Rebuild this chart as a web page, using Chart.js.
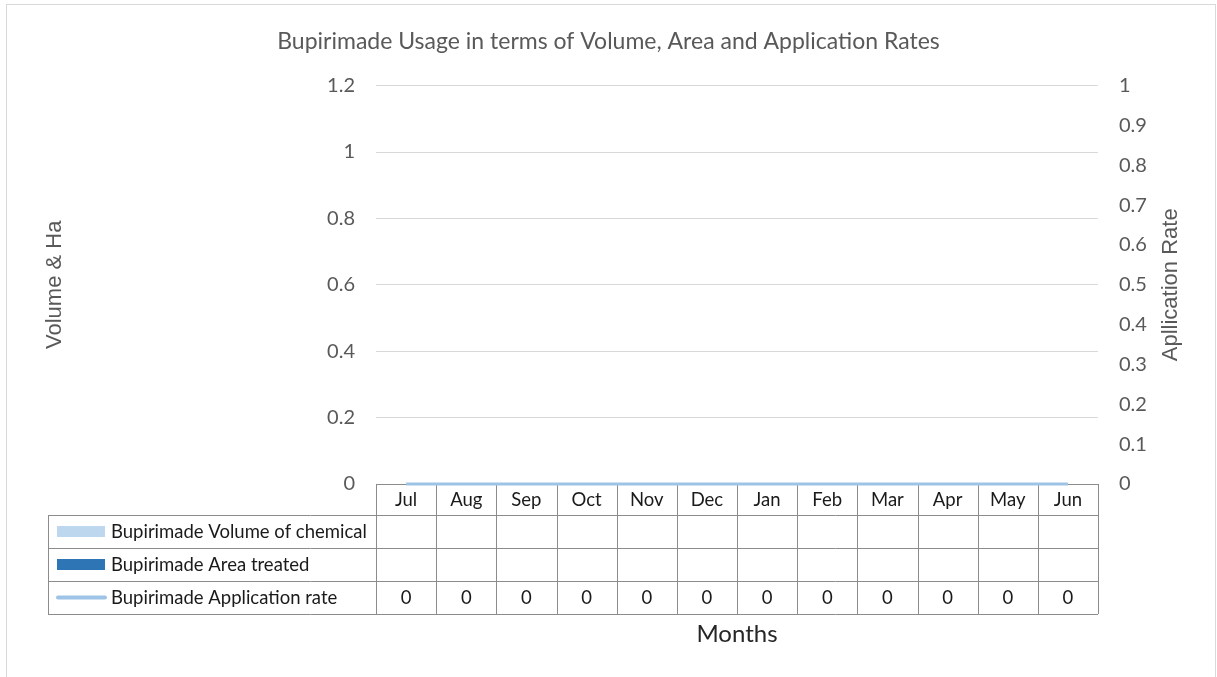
<!DOCTYPE html>
<html>
<head>
<meta charset="utf-8">
<script src="https://cdn.jsdelivr.net/npm/chart.js@4"></script>
<style>
html, body { margin: 0; padding: 0; background: #fff; }
</style>
</head>
<body>
<canvas id="chartCanvas" width="1217" height="677"></canvas>
<script>
var months = ["Jul", "Aug", "Sep", "Oct", "Nov", "Dec", "Jan", "Feb", "Mar", "Apr", "May", "Jun"];
var volumeOfChemical = [null, null, null, null, null, null, null, null, null, null, null, null];
var areaTreated = [null, null, null, null, null, null, null, null, null, null, null, null];
var applicationRate = [0, 0, 0, 0, 0, 0, 0, 0, 0, 0, 0, 0];

var FONT = "Lato, 'Open Sans', sans-serif";
var AXIS_FONT = "'Liberation Sans', Arial, sans-serif";
var TEXT = "#595959";

// data table under the plot, one column per category of the x scale
var tablePlugin = {
    id: "dataTable",
    beforeDraw: function(chart) {
        var ctx = chart.ctx;
        ctx.save();
        ctx.strokeStyle = "#d9d9d9";
        ctx.lineWidth = 1;
        ctx.strokeRect(6.5, 4.5, 1209, 720);
        ctx.restore();
    },
    beforeDatasetsDraw: function(chart) {
        var ctx = chart.ctx;
        var area = chart.chartArea;
        var xs = chart.scales.x;
        var colW = (area.right - area.left) / months.length;
        var rows = [area.bottom, area.bottom + 31, area.bottom + 64, area.bottom + 97, area.bottom + 130];
        var legendLeft = 48;
        var sets = chart.data.datasets;

        ctx.save();
        ctx.strokeStyle = "#8c8c8c";
        ctx.lineWidth = 1;
        ctx.beginPath();
        ctx.moveTo(area.left, Math.round(rows[0]) + 0.5);
        ctx.lineTo(area.right, Math.round(rows[0]) + 0.5);
        for (var r = 1; r < rows.length; r++) {
            ctx.moveTo(legendLeft, Math.round(rows[r]) + 0.5);
            ctx.lineTo(area.right, Math.round(rows[r]) + 0.5);
        }
        for (var i = 0; i <= months.length; i++) {
            var x = Math.round(xs.getPixelForValue(0) - colW / 2 + i * colW) + 0.5;
            ctx.moveTo(x, rows[0]);
            ctx.lineTo(x, rows[4]);
        }
        ctx.moveTo(legendLeft + 0.5, rows[1]);
        ctx.lineTo(legendLeft + 0.5, rows[4]);
        ctx.stroke();

        ctx.fillStyle = "#1a1a1a";
        ctx.font = "18.5px " + FONT;
        ctx.textAlign = "center";
        ctx.textBaseline = "middle";
        var rowData = [volumeOfChemical, areaTreated, applicationRate];
        for (var j = 0; j < months.length; j++) {
            var cx = xs.getPixelForValue(j);
            ctx.fillText(months[j], cx, (rows[0] + rows[1]) / 2 + 1);
            for (var k = 0; k < rowData.length; k++) {
                if (rowData[k][j] !== null) {
                    ctx.fillText(String(rowData[k][j]), cx, (rows[k + 1] + rows[k + 2]) / 2 + 1);
                }
            }
        }

        // legend keys
        for (var s = 0; s < 3; s++) {
            var midY = (rows[s + 1] + rows[s + 2]) / 2;
            var ds = sets[s];
            if (ds.type === "line") {
                ctx.strokeStyle = ds.borderColor;
                ctx.lineWidth = 4;
                ctx.lineCap = "round";
                ctx.beginPath();
                ctx.moveTo(58, midY);
                ctx.lineTo(105, midY);
                ctx.stroke();
            } else {
                ctx.fillStyle = ds.backgroundColor;
                ctx.fillRect(57, midY - 5.5, 48, 11);
            }
            ctx.fillStyle = "#1a1a1a";
            ctx.textAlign = "left";
            ctx.fillText(ds.label, 111, midY + 1);
        }
        ctx.restore();
    },
    afterDraw: function(chart) {
        var ctx = chart.ctx;
        var area = chart.chartArea;
        ctx.save();
        ctx.translate(1171, (area.top + area.bottom) / 2);
        ctx.rotate(-Math.PI / 2);
        ctx.fillStyle = TEXT;
        ctx.font = "22px " + AXIS_FONT;
        ctx.textAlign = "center";
        ctx.textBaseline = "middle";
        ctx.fillText("Apllication Rate", 0, 0);
        ctx.restore();
    }
};

var ctx = document.getElementById("chartCanvas");
var chart = new Chart(ctx, {
    data: {
        labels: months,
        datasets: [{
            type: "bar",
            label: "Bupirimade Volume of chemical",
            data: volumeOfChemical,
            backgroundColor: "#bdd7ee",
            yAxisID: "y",
            order: 2
        }, {
            type: "bar",
            label: "Bupirimade Area treated",
            data: areaTreated,
            backgroundColor: "#2e75b6",
            yAxisID: "y",
            order: 2
        }, {
            type: "line",
            label: "Bupirimade Application rate",
            data: applicationRate,
            borderColor: "#9dc3e6",
            backgroundColor: "#9dc3e6",
            borderWidth: 3,
            pointRadius: 0,
            tension: 0,
            clip: false,
            yAxisID: "y1",
            order: 1
        }]
    },
    options: {
        responsive: false,
        animation: false,
        layout: { padding: 0 },
        plugins: {
            legend: { display: false },
            tooltip: { enabled: false },
            title: {
                display: true,
                text: "Bupirimade Usage in terms of Volume, Area and Application Rates",
                color: TEXT,
                font: { family: FONT, size: 23, weight: "normal" },
                padding: { top: 28, bottom: 30 }
            }
        },
        scales: {
            x: {
                offset: true,
                grid: { display: false },
                border: { display: false },
                ticks: { display: false },
                title: {
                    display: true,
                    text: "Months",
                    color: "#262626",
                    font: { family: FONT, size: 24 },
                    padding: { top: 0, bottom: 28 }
                },
                afterFit: function(scale) { scale.height = 193; }
            },
            y: {
                position: "left",
                min: 0,
                max: 1.2,
                grid: { color: "#d9d9d9", drawTicks: false },
                border: { display: false },
                ticks: {
                    stepSize: 0.2,
                    padding: 21,
                    color: TEXT,
                    font: { family: FONT, size: 20 },
                    callback: function(v) { return String(+v.toFixed(1)); }
                },
                title: {
                    display: true,
                    text: "Volume & Ha",
                    color: TEXT,
                    font: { family: AXIS_FONT, size: 22 },
                    padding: { top: 42, bottom: 0 }
                },
                afterFit: function(scale) { scale.width = 376; }
            },
            y1: {
                position: "right",
                min: 0,
                max: 1,
                grid: { display: false, drawTicks: false },
                border: { display: false },
                ticks: {
                    stepSize: 0.1,
                    padding: 21,
                    color: TEXT,
                    font: { family: FONT, size: 20 },
                    callback: function(v) { return String(+v.toFixed(1)); }
                },
                afterFit: function(scale) { scale.width = 119; }
            }
        }
    },
    plugins: [tablePlugin]
});
</script>
</body>
</html>
